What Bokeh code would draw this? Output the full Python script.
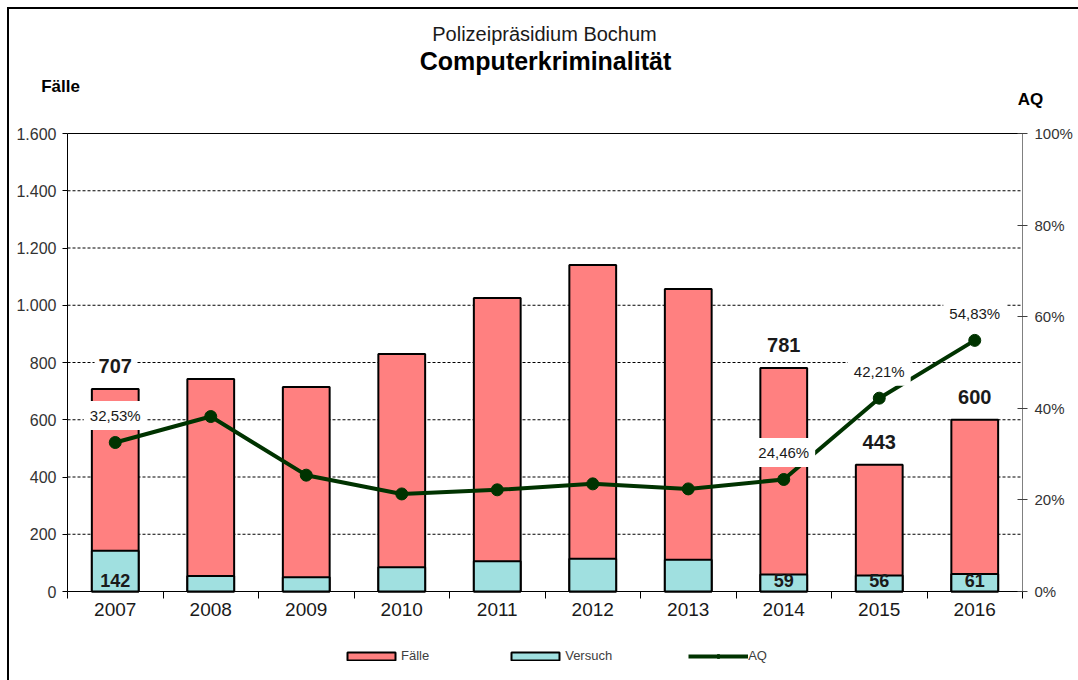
from bokeh.plotting import figure
from bokeh.models import (LinearAxis, Range1d, FixedTicker, ColumnDataSource, Label,
                          Legend, LegendItem)
from bokeh.embed import file_html
from bokeh.resources import INLINE
from bokeh.core.properties import value

# ---- data ----
years = ["2007", "2008", "2009", "2010", "2011", "2012", "2013", "2014", "2015", "2016"]
faelle = [707, 742, 714, 830, 1025, 1141, 1057, 781, 443, 600]
versuch = [142, 54, 50, 85, 106, 114, 111, 59, 56, 61]
aq = [32.53, 38.2, 25.4, 21.3, 22.2, 23.5, 22.4, 24.46, 42.21, 54.83]
labelled_years = ["2007", "2014", "2015", "2016"]

left_ticks = [0, 200, 400, 600, 800, 1000, 1200, 1400, 1600]
left_tick_labels = ["0", "200", "400", "600", "800", "1.000", "1.200", "1.400", "1.600"]
right_ticks = [0, 20, 40, 60, 80, 100]
right_tick_labels = ["0%", "20%", "40%", "60%", "80%", "100%"]

title_top = "Polizeipräsidium Bochum"
title_main = "Computerkriminalität"
left_title = "Fälle"
right_title = "AQ"

FONT = "Liberation Sans"
RED = "#FF8080"
CYAN = "#A0E0E0"
GREEN = "#003300"

# ---- layout (pixels) ----
W, H = 1078, 680
PL, PR, PT, PB = 67, 1022, 133, 591      # plot area edges on the canvas
n = len(years)
YMAX = left_ticks[-1]
AQMAX = right_ticks[-1]
xpx = (PR - PL) / n
ypx = (PB - PT) / YMAX
x_range = Range1d(-PL / xpx, n + (W - PR) / xpx)
y_range = Range1d(-(H - PB) / ypx, YMAX + PT / ypx)
ratio = YMAX / AQMAX

xs = [i + 0.5 for i in range(n)]

frame_css = ("linear-gradient(#000,#000) 7px 7px / 2px 100% no-repeat, "
             "linear-gradient(#000,#000) 7px 7px / 100% 2px no-repeat, #ffffff")
p = figure(width=W, height=H, x_range=x_range, y_range=y_range,
           output_backend="svg", toolbar_location=None, min_border=0,
           styles={"background": frame_css})
p.outline_line_color = None
p.background_fill_alpha = 0
p.border_fill_alpha = 0
p.extra_y_ranges = {"aq": Range1d(y_range.start / ratio, y_range.end / ratio)}
p.xgrid.visible = False
p.ygrid.visible = False

# grid lines (dashed) and solid top line, limited to the plot area
grid_vals = left_ticks[1:-1]
p.segment(x0=[0] * len(grid_vals), x1=[n] * len(grid_vals), y0=grid_vals, y1=grid_vals,
          line_color="black", line_width=1, line_dash="3 2")
p.segment(x0=[0], x1=[n], y0=[YMAX], y1=[YMAX], line_color="black", line_width=1)

# x axis
xa = p.xaxis[0]
xa.fixed_location = 0
xa.bounds = (0, n)
xa.ticker = FixedTicker(ticks=xs, minor_ticks=list(range(n + 1)))
xa.major_label_overrides = {x: y for x, y in zip(xs, years)}
xa.major_tick_out = 0
xa.major_tick_in = 0
xa.minor_tick_out = 7
xa.minor_tick_in = 0
xa.minor_tick_line_color = "black"
xa.axis_line_color = "black"
xa.major_label_text_font = FONT
xa.major_label_text_font_size = "19px"
xa.major_label_text_color = "#1a1a1a"
xa.major_label_standoff = 4

# left axis
ya = p.yaxis[0]
ya.fixed_location = 0
ya.bounds = (0, YMAX)
ya.ticker = FixedTicker(ticks=left_ticks)
ya.major_label_overrides = {t: l for t, l in zip(left_ticks, left_tick_labels)}
ya.major_tick_out = 5
ya.major_tick_in = 0
ya.minor_tick_line_color = None
ya.axis_line_color = "black"
ya.major_tick_line_color = "black"
ya.major_label_text_font = FONT
ya.major_label_text_font_size = "16px"
ya.major_label_text_color = "#333333"
ya.major_label_standoff = 6

# right axis
ra = LinearAxis(y_range_name="aq", ticker=FixedTicker(ticks=right_ticks),
                fixed_location=n, bounds=(0, AQMAX))
ra.major_label_overrides = {t: l for t, l in zip(right_ticks, right_tick_labels)}
ra.major_tick_out = 5
ra.major_tick_in = 5
ra.minor_tick_line_color = None
ra.axis_line_color = "#808080"
ra.major_tick_line_color = "#404040"
ra.major_label_text_font = FONT
ra.major_label_text_font_size = "15px"
ra.major_label_text_color = "#333333"
ra.major_label_standoff = 7
p.add_layout(ra, "right")

# bars and line
src = ColumnDataSource(dict(x=xs, faelle=faelle, versuch=versuch, aq=aq))
r_f = p.vbar(x="x", top="faelle", bottom=0, width=0.49, fill_color=RED,
             line_color="black", line_width=2, source=src)
r_v = p.vbar(x="x", top="versuch", bottom=0, width=0.49, fill_color=CYAN,
             line_color="black", line_width=2, source=src)
r_l = p.line(x="x", y="aq", y_range_name="aq", line_color=GREEN, line_width=4, source=src)
r_m = p.scatter(x="x", y="aq", y_range_name="aq", size=12, fill_color=GREEN,
                line_color=GREEN, source=src)

# data labels
idx = [years.index(y) for y in labelled_years]
lsrc = ColumnDataSource(dict(
    x=[xs[i] for i in idx],
    faelle=[faelle[i] for i in idx],
    faelle_txt=[str(faelle[i]) for i in idx],
    versuch_txt=[str(versuch[i]) for i in idx],
    aq=[aq[i] for i in idx],
    aq_txt=[f"{aq[i]:.2f}".replace(".", ",") + "%" for i in idx],
))
p.text(x="x", y="faelle", text="faelle_txt", source=lsrc, text_font=value(FONT),
       text_font_style="bold", text_font_size="20px", text_align="center",
       text_baseline="middle", y_offset=-23, text_color="#1a1a1a",
       background_fill_color="white", padding=4)
p.text(x="x", y=0, text="versuch_txt", source=lsrc, text_font=value(FONT),
       text_font_style="bold", text_font_size="18px", text_align="center",
       text_baseline="middle", y_offset=-11, text_color="#1a1a1a")
p.text(x="x", y="aq", y_range_name="aq", text="aq_txt", source=lsrc, text_font=value(FONT),
       text_font_size="15px", text_align="center", text_baseline="middle",
       y_offset=-27, text_color="#1a1a1a", background_fill_color="white", padding=6)

# titles (screen units: x from left, y from bottom)
def add_label(text, x, y_top, size, bold=False, color="#000000"):
    p.add_layout(Label(x=x, y=H - y_top, x_units="screen", y_units="screen", text=text,
                       text_font=FONT, text_font_size=size,
                       text_font_style="bold" if bold else "normal",
                       text_align="center", text_baseline="middle", text_color=color))

add_label(title_top, 544, 33, "20px", color="#1a1a1a")
add_label(title_main, 545, 60, "25px", bold=True)
add_label(left_title, 60, 86, "17px", bold=True)
add_label(right_title, 1030, 99, "17px", bold=True)

# legend
legend = Legend(items=[LegendItem(label="Fälle", renderers=[r_f]),
                       LegendItem(label="Versuch", renderers=[r_v]),
                       LegendItem(label="AQ", renderers=[r_l, r_m])],
                orientation="horizontal", location=(341, 17),
                glyph_width=60, glyph_height=10, label_standoff=0, spacing=76,
                padding=0, margin=0, border_line_color=None, background_fill_alpha=0,
                label_text_font=FONT, label_text_font_size="13px",
                label_text_color="#404040", label_height=14)
p.add_layout(legend, "center")

open("out.html", "w").write(file_html(p, INLINE))
